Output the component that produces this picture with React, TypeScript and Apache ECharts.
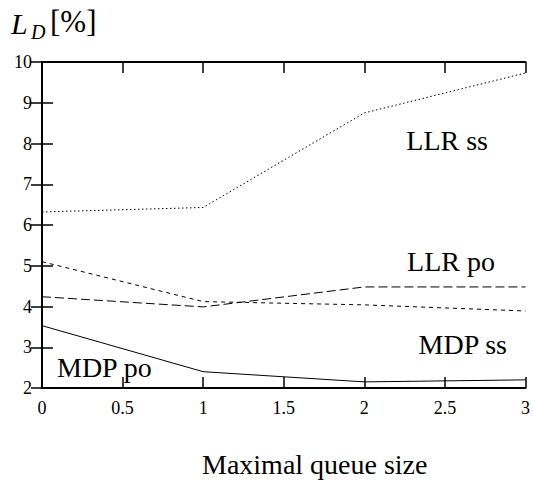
import React, { useEffect, useRef } from "react";
import * as echarts from "echarts";

// Loss rate L_D [%] against the maximal queue size
const queueSizes = [0, 1, 2, 3];
const llrSs = [6.32, 6.43, 8.75, 9.73];
const llrPo = [5.1, 4.12, 4.04, 3.89];
const mdpSs = [4.24, 3.99, 4.48, 4.48];
const mdpPo = [3.53, 2.4, 2.15, 2.2];

const serif = "Liberation Serif";

const pairs = (ys: number[]) => queueSizes.map((x, i) => [x, ys[i]]);

const txt = (text: string, size: number, italic = false) => ({
  text,
  fontFamily: serif,
  fontSize: size,
  fontStyle: italic ? "italic" : "normal",
  fill: "#000",
});

export default function App() {
  const ref = useRef<HTMLDivElement>(null);

  useEffect(() => {
    if (!ref.current) return;
    const chart = echarts.init(ref.current, null, { renderer: "svg" });

    const line = (name: string, data: number[], type: any) => ({
      name,
      type: "line",
      data: pairs(data),
      symbol: "none",
      lineStyle: { color: "#000", width: 1, type },
      xAxisIndex: 0,
      yAxisIndex: 0,
    });

    const tickStyle = { lineStyle: { color: "#000", width: 1.5 } };

    chart.setOption({
      animation: false,
      backgroundColor: "#fff",
      grid: { left: 42, right: 5, top: 62, bottom: 99, containLabel: false },
      xAxis: [
        {
          type: "value",
          min: 0,
          max: 3,
          interval: 0.5,
          position: "bottom",
          axisLine: { show: true, lineStyle: { color: "#000", width: 2 } },
          axisTick: { show: true, inside: true, length: 11, ...tickStyle },
          axisLabel: { color: "#000", fontFamily: serif, fontSize: 18, margin: 11 },
          splitLine: { show: false },
        },
        {
          type: "value",
          min: 0,
          max: 3,
          interval: 0.5,
          position: "top",
          axisLine: { show: true, lineStyle: { color: "#000", width: 2 } },
          axisTick: { show: true, inside: true, length: 11, ...tickStyle },
          axisLabel: { show: false },
          splitLine: { show: false },
        },
      ],
      yAxis: [
        {
          type: "value",
          min: 2,
          max: 10,
          interval: 1,
          position: "left",
          axisLine: { show: true, lineStyle: { color: "#000", width: 2 } },
          axisTick: { show: true, inside: true, length: 11, ...tickStyle },
          axisLabel: { color: "#000", fontFamily: serif, fontSize: 18, margin: 10 },
          splitLine: { show: false },
        },
        {
          type: "value",
          min: 2,
          max: 10,
          interval: 1,
          position: "right",
          axisLine: { show: true, lineStyle: { color: "#000", width: 2 } },
          axisTick: { show: true, inside: true, length: 11, ...tickStyle },
          axisLabel: { show: false },
          splitLine: { show: false },
        },
      ],
      series: [
        line("LLR ss", llrSs, [1.5, 2.5]),
        line("LLR po", llrPo, [4, 4]),
        line("MDP ss", mdpSs, [9, 4]),
        line("MDP po", mdpPo, "solid"),
      ],
      graphic: [
        { type: "text", left: 11, top: 8, style: txt("L", 30, true) },
        { type: "text", left: 31, top: 22, style: txt("D", 20, true) },
        { type: "text", left: 50, top: 6, style: txt("[%]", 31) },
        { type: "text", right: 45, top: 126, style: txt("LLR ss", 28) },
        { type: "text", right: 38, top: 247, style: txt("LLR po", 28) },
        { type: "text", right: 25, top: 330, style: txt("MDP ss", 28) },
        { type: "text", left: 57, top: 353, style: txt("MDP po", 28) },
        { type: "text", left: 202, top: 450, style: txt("Maximal queue size", 28) },
      ],
    });

    return () => chart.dispose();
  }, []);

  return (
    <div
      ref={ref}
      style={{ position: "absolute", left: 0, top: 0, width: 533, height: 487, background: "#fff" }}
    />
  );
}
